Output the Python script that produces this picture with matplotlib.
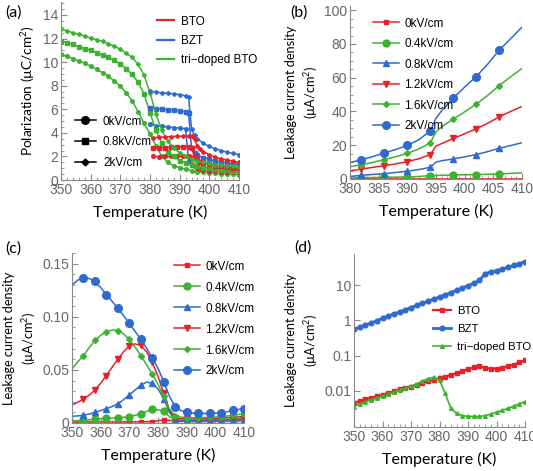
"""
Four-panel polarization / leakage current figure
"""
import matplotlib
matplotlib.use('Agg')
import matplotlib.pyplot as plt
from matplotlib.lines import Line2D
from matplotlib.ticker import MultipleLocator, FixedLocator, NullLocator

plt.rcParams['font.family'] = ['Liberation Sans', 'DejaVu Sans']
plt.rcParams['mathtext.default'] = 'regular'

RED = '#e8202a'
BLUE = '#2f6ad0'
GREEN = '#3db22f'
TICK_GRAY = '#666666'
SPINE_GRAY = '#8a8a8a'
LABEL_FONT = ['Lato', 'DejaVu Sans']

# ---------------- panel (a): polarization ----------------
temp_a_green = [350, 352, 354, 356, 358, 360, 362, 364, 366, 368, 370, 372, 374, 376, 378,
                380, 382, 384, 386, 388, 390, 392, 394, 396, 398, 400, 402, 404, 406, 408, 410]
pol_tri_2kv = [12.8, 12.65, 12.5, 12.35, 12.2, 12.05, 11.9, 11.75, 11.55, 11.35, 11.1, 10.75, 10.4, 9.8, 8.9,
               7.4, 5.6, 4.2, 3.3, 2.7, 2.3, 2.0, 1.8, 1.6, 1.5, 1.4, 1.3, 1.25, 1.2, 1.15, 1.1]
pol_tri_08kv = [11.8, 11.65, 11.5, 11.3, 11.15, 11.0, 10.8, 10.6, 10.4, 10.15, 9.85, 9.45, 8.95, 8.3, 7.3,
                5.7, 4.2, 3.1, 2.4, 2.0, 1.65, 1.45, 1.3, 1.15, 1.05, 0.98, 0.92, 0.87, 0.83, 0.8, 0.77]
pol_tri_0kv = [10.7, 10.5, 10.3, 10.1, 9.9, 9.65, 9.4, 9.1, 8.8, 8.4, 7.95, 7.4, 6.7, 5.8, 4.8,
               3.9, 2.9, 2.0, 1.5, 1.2, 1.05, 0.9, 0.8, 0.72, 0.66, 0.6, 0.56, 0.53, 0.5, 0.48, 0.46]

temp_a_bzt = [380, 382, 384, 386, 388, 390, 392, 393, 394, 395, 396, 398, 400, 402, 404, 406, 408, 410]
pol_bzt_2kv = [7.55, 7.45, 7.4, 7.35, 7.3, 7.25, 7.15, 7.05, 4.3, 3.8, 3.5, 3.1, 2.85, 2.65, 2.5, 2.35, 2.25, 2.15]
pol_bzt_08kv = [6.15, 6.05, 6.0, 5.95, 5.9, 5.85, 5.8, 5.7, 2.7, 2.3, 2.1, 1.9, 1.75, 1.62, 1.52, 1.45, 1.38, 1.32]
pol_bzt_0kv = [4.75, 4.6, 4.55, 4.5, 4.45, 4.4, 4.35, 1.6, 1.3, 1.2, 1.15, 1.08, 1.02, 0.98, 0.95, 0.92, 0.9, 0.88]

temp_a_bto = [381, 383, 385, 387, 389, 391, 393, 394, 395, 396, 397, 398, 400, 402, 404, 406, 408, 410]
pol_bto_2kv = [3.6, 3.62, 3.65, 3.68, 3.7, 3.72, 3.75, 3.72, 3.45, 2.9, 2.6, 2.4, 2.15, 1.95, 1.8, 1.7, 1.6, 1.5]
pol_bto_08kv = [2.7, 2.72, 2.75, 2.78, 2.8, 2.82, 2.82, 2.7, 2.0, 1.7, 1.55, 1.45, 1.32, 1.22, 1.15, 1.08, 1.03, 1.0]
pol_bto_0kv = [2.0, 1.98, 2.0, 2.0, 2.02, 2.0, 2.0, 1.85, 1.2, 1.0, 0.9, 0.85, 0.78, 0.74, 0.71, 0.69, 0.67, 0.65]

# ---------------- panel (b): BZT leakage 380-410 K ----------------
temp_b = [380, 382, 384, 386, 388, 390, 392, 394, 395, 396, 398, 400, 402, 404, 406, 408, 410]
marker_temps_b = [382, 386, 390, 394, 398, 402, 406]
leak_b_0kv = [0.1, 0.1, 0.1, 0.1, 0.1, 0.1, 0.1, 0.1, 0.1, 0.1, 0.1, 0.1, 0.1, 0.1, 0.1, 0.1, 0.1]
leak_b_04kv = [0.6, 0.75, 0.85, 1.0, 1.1, 1.25, 1.5, 2.0, 2.1, 2.2, 2.4, 2.5, 2.6, 2.8, 3.0, 3.3, 3.7]
leak_b_08kv = [1.5, 2.2, 2.7, 3.2, 3.9, 4.6, 5.6, 6.9, 10.0, 10.8, 11.9, 13.1, 14.5, 16.2, 18.2, 19.8, 21.5]
leak_b_12kv = [4.8, 5.9, 6.9, 7.9, 9.0, 10.3, 12.0, 14.4, 19.5, 21.0, 24.0, 26.8, 29.7, 33.0, 36.8, 40.0, 43.0]
leak_b_16kv = [7.3, 8.5, 9.9, 11.5, 13.2, 15.2, 17.8, 21.3, 28.0, 31.0, 35.4, 39.8, 44.3, 49.5, 55.3, 60.5, 65.5]
leak_b_2kv = [9.8, 11.4, 13.3, 15.4, 17.5, 19.9, 23.3, 28.5, 36.0, 40.5, 47.8, 54.5, 60.6, 68.0, 76.3, 83.0, 90.0]

# ---------------- panel (c): tri-doped BTO leakage ----------------
temp_c = [350, 352, 354, 356, 358, 360, 362, 364, 366, 368, 370, 372, 374, 376, 378,
          380, 382, 384, 386, 388, 390, 392, 394, 396, 398, 400, 402, 404, 406, 408, 410]
leak_c_0kv = [0.0008, 0.0008, 0.0009, 0.0009, 0.0009, 0.0010, 0.0010, 0.0010, 0.0010, 0.0010, 0.0010,
              0.0011, 0.0011, 0.0012, 0.0014, 0.0020, 0.0030, 0.0025, 0.0018, 0.0015, 0.0015, 0.0015,
              0.0015, 0.0015, 0.0016, 0.0016, 0.0017, 0.0018, 0.0018, 0.0019, 0.0020]
leak_c_04kv = [0.0020, 0.0022, 0.0025, 0.0030, 0.0035, 0.0040, 0.0044, 0.0047, 0.0050, 0.0054, 0.0060,
               0.0072, 0.0088, 0.0108, 0.0128, 0.0125, 0.0110, 0.0060, 0.0030, 0.0026, 0.0025, 0.0025,
               0.0025, 0.0026, 0.0027, 0.0029, 0.0032, 0.0035, 0.0038, 0.0041, 0.0044]
leak_c_08kv = [0.0063, 0.0067, 0.0072, 0.0085, 0.0100, 0.0117, 0.0135, 0.0155, 0.0180, 0.0220, 0.0264,
               0.0310, 0.0355, 0.0385, 0.0374, 0.0320, 0.0230, 0.0100, 0.0025, 0.0021, 0.0020, 0.0020,
               0.0020, 0.0021, 0.0022, 0.0024, 0.0026, 0.0028, 0.0030, 0.0033, 0.0035]
leak_c_12kv = [0.0170, 0.0195, 0.0226, 0.0262, 0.0310, 0.0375, 0.0447, 0.0525, 0.0600, 0.0670, 0.0725,
               0.0745, 0.0730, 0.0670, 0.0570, 0.0440, 0.0280, 0.0120, 0.0044, 0.0040, 0.0038, 0.0038,
               0.0038, 0.0039, 0.0040, 0.0042, 0.0047, 0.0050, 0.0053, 0.0057, 0.0060]
leak_c_16kv = [0.0510, 0.0575, 0.0635, 0.0710, 0.0777, 0.0825, 0.0860, 0.0875, 0.0870, 0.0838, 0.0786,
               0.0715, 0.0635, 0.0550, 0.0460, 0.0365, 0.0250, 0.0130, 0.0070, 0.0055, 0.0050, 0.0050,
               0.0050, 0.0051, 0.0053, 0.0056, 0.0060, 0.0065, 0.0072, 0.0080, 0.0088]
leak_c_2kv = [0.1296, 0.1345, 0.1365, 0.1360, 0.1333, 0.1275, 0.1208, 0.1145, 0.1079, 0.1010, 0.0937,
              0.0862, 0.0789, 0.0705, 0.0610, 0.0515, 0.0390, 0.0250, 0.0154, 0.0118, 0.0102, 0.0094,
              0.0091, 0.0090, 0.0090, 0.0092, 0.0097, 0.0105, 0.0118, 0.0127, 0.0135]

# ---------------- panel (d): comparison, log scale ----------------
temp_d = temp_c
leak_d_bto = [0.0046, 0.0052, 0.0058, 0.0064, 0.0070, 0.0077, 0.0087, 0.0098, 0.0110, 0.0121, 0.0133,
              0.0150, 0.0168, 0.0187, 0.0206, 0.0228, 0.0255, 0.0285, 0.0320, 0.0365, 0.0415, 0.0470,
              0.0505, 0.0450, 0.0420, 0.0430, 0.0460, 0.0500, 0.0560, 0.0640, 0.0740]
leak_d_bzt = [0.556, 0.64, 0.73, 0.84, 0.98, 1.14, 1.32, 1.52, 1.75, 2.0, 2.3, 2.65, 3.05, 3.5, 4.0,
              4.6, 5.3, 6.1, 7.1, 8.3, 9.6, 11.2, 13.5, 21.0, 23.5, 25.6, 28.5, 32.0, 36.0, 40.5, 46.0]
leak_d_tri = [0.0036, 0.0042, 0.0049, 0.0056, 0.0064, 0.0072, 0.0082, 0.0093, 0.0105, 0.0118, 0.0135,
              0.0158, 0.0190, 0.0225, 0.0245, 0.0200, 0.0085, 0.0032, 0.0023, 0.0020, 0.0019, 0.0019,
              0.0019, 0.0020, 0.0022, 0.0025, 0.0028, 0.0032, 0.0037, 0.0043, 0.0050]

field_labels = ['0kV/cm', '0.4kV/cm', '0.8kV/cm', '1.2kV/cm', '1.6kV/cm', '2kV/cm']
field_colors = [RED, GREEN, BLUE, RED, GREEN, BLUE]
field_markers = ['s', 'o', '^', 'v', 'D', 'o']
field_msizes = [3.2, 5, 4, 4, 3, 5.5]

W, H = 533, 471


def px_axes(fig, left, right, top, bottom):
    """Add axes from pixel bounds"""
    return fig.add_axes([left / W, 1 - bottom / H, (right - left) / W, (bottom - top) / H])


def style_axes(ax):
    for side in ['top', 'right']:
        ax.spines[side].set_visible(False)
    for side in ['left', 'bottom']:
        ax.spines[side].set_color(SPINE_GRAY)
        ax.spines[side].set_linewidth(0.8)
    ax.tick_params(which='both', direction='in', colors=SPINE_GRAY, labelcolor=TICK_GRAY,
                   labelsize=10, top=False, right=False)
    ax.tick_params(which='major', length=4, pad=2)
    ax.tick_params(which='minor', length=2)
    ax.set_xlabel('Temperature (K)', fontsize=11.5, family=LABEL_FONT, labelpad=6)


def leak_ylabel(ax):
    ax.set_ylabel('Leakage current density\n(µA/cm$^2$)', fontsize=9.2,
                  family=LABEL_FONT, labelpad=3, linespacing=1.35)


fig = plt.figure(figsize=(W / 100, H / 100), dpi=100)

# ---- (a) ----
ax = px_axes(fig, 61, 239, 2, 180)
style_axes(ax)
field_a = [(pol_tri_0kv, pol_bzt_0kv, pol_bto_0kv, 'o', 2.6),
           (pol_tri_08kv, pol_bzt_08kv, pol_bto_08kv, 's', 2.2),
           (pol_tri_2kv, pol_bzt_2kv, pol_bto_2kv, 'D', 2.0)]
for tri, bzt, bto, mk, ms in field_a:
    ax.plot(temp_a_green, tri, color=GREEN, lw=1.1, marker=mk, ms=ms)
    ax.plot(temp_a_bzt, bzt, color=BLUE, lw=1.1, marker=mk, ms=ms)
    ax.plot(temp_a_bto, bto, color=RED, lw=1.1, marker=mk, ms=ms)
ax.set_xlim(350, 410)
ax.set_ylim(0, 15.1)
ax.xaxis.set_major_locator(MultipleLocator(10))
ax.xaxis.set_minor_locator(MultipleLocator(2))
ax.yaxis.set_major_locator(FixedLocator([0, 2, 4, 6, 8, 10, 12, 14]))
ax.yaxis.set_minor_locator(MultipleLocator(0.5))
ax.set_ylabel('Polarization (µC/cm$^2$)', fontsize=9.8, family=LABEL_FONT, labelpad=4)
mat_handles = [Line2D([], [], color=c, lw=1.6) for c in [RED, BLUE, GREEN]]
leg = ax.legend(mat_handles, ['BTO', 'BZT', 'tri\u2212doped BTO'], loc='upper left',
                bbox_to_anchor=(146 / W, 1 - 5 / H), bbox_transform=fig.transFigure,
                frameon=False, fontsize=8.5, handlelength=1.5, handletextpad=0.6, labelspacing=0.6)
ax.add_artist(leg)
fld_handles = [Line2D([], [], color='black', lw=1.1, marker=m, ms=s)
               for m, s in [('o', 5.5), ('s', 4), ('D', 3.5)]]
ax.legend(fld_handles, ['0kV/cm', '0.8kV/cm', '2kV/cm'], loc='upper left',
          bbox_to_anchor=(64 / W, 1 - 105 / H), bbox_transform=fig.transFigure,
          frameon=False, fontsize=8.5, handlelength=1.8, handletextpad=0.6, labelspacing=0.75)
fig.text(5 / W, 1 - 13 / H, '(a)', fontsize=11.5, family=LABEL_FONT, va='center')

# ---- (b) ----
ax = px_axes(fig, 350, 522, 6, 179)
style_axes(ax)
series_b = [leak_b_0kv, leak_b_04kv, leak_b_08kv, leak_b_12kv, leak_b_16kv, leak_b_2kv]
mark_idx_b = [temp_b.index(t) for t in marker_temps_b]
for vals, lab, c, m, s in zip(series_b, field_labels, field_colors, field_markers, field_msizes):
    ax.plot(temp_b, vals, color=c, lw=1.1, marker=m, ms=s, markevery=mark_idx_b, label=lab)
ax.set_xlim(380, 410)
ax.set_ylim(0, 102.5)
ax.xaxis.set_major_locator(MultipleLocator(5))
ax.xaxis.set_minor_locator(MultipleLocator(1))
ax.yaxis.set_major_locator(MultipleLocator(20))
ax.yaxis.set_minor_locator(MultipleLocator(5))
leak_ylabel(ax)
ax.legend(loc='upper left', bbox_to_anchor=(362 / W, 1 - 7 / H), bbox_transform=fig.transFigure,
          frameon=False, fontsize=8.5, handlelength=2.2, handletextpad=0.5, labelspacing=0.72)
fig.text(290 / W, 1 - 13 / H, '(b)', fontsize=11.5, family=LABEL_FONT, va='center')

# ---- (c) ----
ax = px_axes(fig, 72, 244, 253, 423)
style_axes(ax)
series_c = [leak_c_0kv, leak_c_04kv, leak_c_08kv, leak_c_12kv, leak_c_16kv, leak_c_2kv]
mark_idx_c = list(range(2, len(temp_c), 2))
for vals, lab, c, m, s in zip(series_c, field_labels, field_colors, field_markers, field_msizes):
    ax.plot(temp_c, vals, color=c, lw=1.1, marker=m, ms=s, markevery=mark_idx_c, label=lab)
ax.set_xlim(350, 410)
ax.set_ylim(0, 0.16)
ax.xaxis.set_major_locator(MultipleLocator(10))
ax.xaxis.set_minor_locator(MultipleLocator(2))
ax.yaxis.set_major_locator(FixedLocator([0, 0.05, 0.10, 0.15]))
ax.yaxis.set_minor_locator(MultipleLocator(0.01))
ax.set_yticklabels(['0', '0.05', '0.10', '0.15'])
leak_ylabel(ax)
ax.legend(loc='upper left', bbox_to_anchor=(163 / W, 1 - 250 / H), bbox_transform=fig.transFigure,
          frameon=False, fontsize=8.5, handlelength=2.2, handletextpad=0.5, labelspacing=0.76)
fig.text(5 / W, 1 - 249 / H, '(c)', fontsize=11.5, family=LABEL_FONT, va='center')

# ---- (d) ----
ax = px_axes(fig, 354, 525, 254, 427)
style_axes(ax)
ax.plot(temp_d, leak_d_bto, color=RED, lw=1.6, marker='s', ms=2.6, label='BTO')
ax.plot(temp_d, leak_d_bzt, color=BLUE, lw=2.0, marker='o', ms=3.4, label='BZT')
ax.plot(temp_d, leak_d_tri, color=GREEN, lw=1.2, marker='^', ms=2.6, label='tri\u2212doped BTO')
ax.set_yscale('log')
ax.set_xlim(350, 410)
ax.set_ylim(0.00095, 76)
ax.xaxis.set_major_locator(MultipleLocator(10))
ax.xaxis.set_minor_locator(MultipleLocator(2))
ax.yaxis.set_major_locator(FixedLocator([0.01, 0.1, 1, 10]))
ax.yaxis.set_minor_locator(NullLocator())
ax.set_yticklabels(['0.01', '0.1', '1', '10'])
leak_ylabel(ax)
ax.legend(loc='upper left', bbox_to_anchor=(423 / W, 1 - 296 / H), bbox_transform=fig.transFigure,
          frameon=False, fontsize=8.2, handlelength=1.6, handletextpad=0.5, labelspacing=0.7)
fig.text(294 / W, 1 - 248 / H, '(d)', fontsize=11.5, family=LABEL_FONT, va='center')

fig.savefig('out.png', dpi=100, facecolor='white')
